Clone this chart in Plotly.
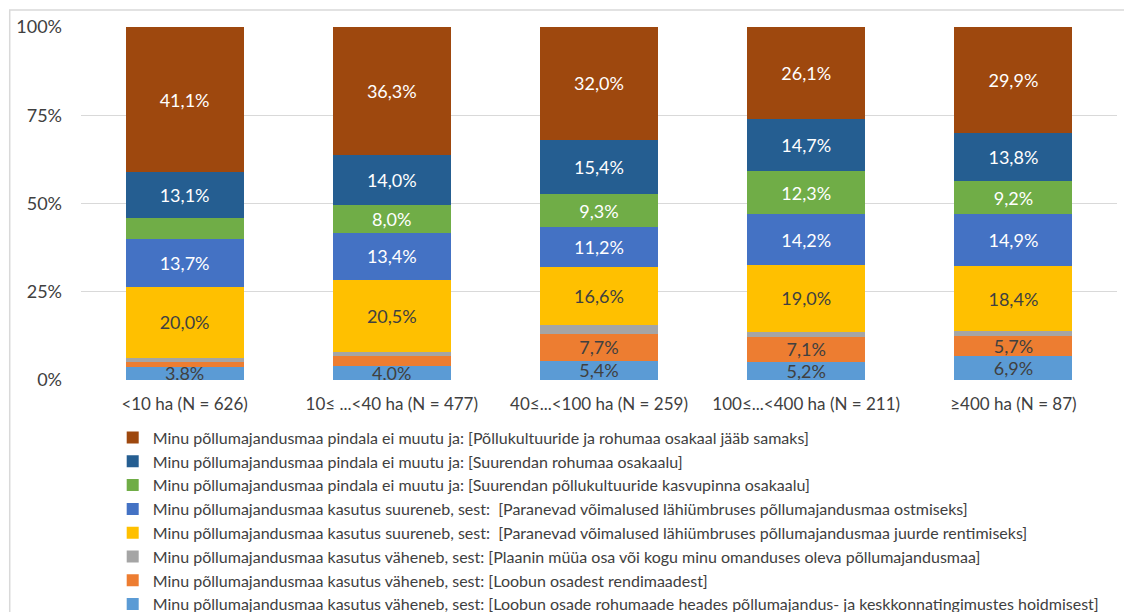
import plotly.graph_objects as go

categories = ["<10 ha (N = 626)", "10≤ ...<40 ha (N = 477)", "40≤...<100 ha (N = 259)",
              "100≤...<400 ha (N = 211)", "≥400 ha (N = 87)"]

# series listed bottom -> top of the stack
series_names = [
    "Minu põllumajandusmaa kasutus väheneb, sest: [Loobun osade rohumaade heades põllumajandus- ja keskkonnatingimustes hoidmisest]",
    "Minu põllumajandusmaa kasutus väheneb, sest: [Loobun osadest rendimaadest]",
    "Minu põllumajandusmaa kasutus väheneb, sest: [Plaanin müüa osa või kogu minu omanduses oleva põllumajandusmaa]",
    "Minu põllumajandusmaa kasutus suureneb, sest:  [Paranevad võimalused lähiümbruses põllumajandusmaa juurde rentimiseks]",
    "Minu põllumajandusmaa kasutus suureneb, sest:  [Paranevad võimalused lähiümbruses põllumajandusmaa ostmiseks]",
    "Minu põllumajandusmaa pindala ei muutu ja: [Suurendan põllukultuuride kasvupinna osakaalu]",
    "Minu põllumajandusmaa pindala ei muutu ja: [Suurendan rohumaa osakaalu]",
    "Minu põllumajandusmaa pindala ei muutu ja: [Põllukultuuride ja rohumaa osakaal jääb samaks]",
]

loobun_rohumaa = [3.8, 4.0, 5.4, 5.2, 6.9]
loobun_rendi = [1.4, 2.9, 7.7, 7.1, 5.7]
plaanin_myya = [1.1, 0.9, 2.4, 1.4, 1.2]
rentimine = [20.0, 20.5, 16.6, 19.0, 18.4]
ostmine = [13.7, 13.4, 11.2, 14.2, 14.9]
pollukultuur = [5.8, 8.0, 9.3, 12.3, 9.2]
rohumaa = [13.1, 14.0, 15.4, 14.7, 13.8]
samaks = [41.1, 36.3, 32.0, 26.1, 29.9]

series_values = [loobun_rohumaa, loobun_rendi, plaanin_myya, rentimine,
                 ostmine, pollukultuur, rohumaa, samaks]

# which data labels are displayed in the original
label_shown = [
    [True, True, True, True, True],
    [False, False, True, True, True],
    [False, False, False, False, False],
    [True, True, True, True, True],
    [True, True, True, True, True],
    [False, True, True, True, True],
    [True, True, True, True, True],
    [True, True, True, True, True],
]

colors = ["#5B9BD5", "#ED7D31", "#A5A5A5", "#FFC000", "#4472C4", "#70AD47", "#255E91", "#9E480E"]
text_colors = ["#404040", "#404040", "#404040", "#404040", "#FFFFFF", "#FFFFFF", "#FFFFFF", "#FFFFFF"]

FONT = "Lato"

fig = go.Figure()
for name, vals, shown, col, tcol in zip(series_names, series_values, label_shown, colors, text_colors):
    txt = [(f"{v:.1f}".replace(".", ",") + "%") if s else "" for v, s in zip(vals, shown)]
    fig.add_trace(go.Bar(
        x=categories, y=vals, name=name,
        marker=dict(color=col, line=dict(width=0)),
        text=txt, textposition="inside", insidetextanchor="middle",
        textfont=dict(family=FONT, size=18, color=tcol),
        hoverinfo="skip",
    ))

fig.update_layout(
    barmode="stack",
    bargap=0.43,
    width=1132, height=612,
    margin=dict(l=73, r=23, t=19, b=240, autoexpand=False),
    paper_bgcolor="white", plot_bgcolor="white",
    font=dict(family=FONT, size=16, color="#595959"),
    uniformtext=dict(mode="show", minsize=18),
    showlegend=True,
    legend=dict(
        traceorder="reversed",
        x=0.0306, xanchor="left",
        y=-0.115, yanchor="top",
        font=dict(family=FONT, size=16, color="#404040"),
        bgcolor="rgba(0,0,0,0)",
    ),
    xaxis=dict(showgrid=False, showline=False, zeroline=False,
               tickfont=dict(family=FONT, size=17, color="#404040"),
               ticklabelstandoff=12),
    yaxis=dict(range=[0, 100], tickvals=[0, 25, 50, 75, 100],
               ticktext=["0%", "25%", "50%", "75%", "100%"],
               showgrid=True, gridcolor="#D9D9D9", gridwidth=1,
               zeroline=False, showline=False,
               tickfont=dict(family=FONT, size=18, color="#404040"),
               ticklabelstandoff=18),
    shapes=[dict(type="rect", xref="paper", yref="paper",
                 x0=-0.0688, x1=1.1, y0=-0.75, y1=1.048,
                 line=dict(color="#D9D9D9", width=1.5), fillcolor="rgba(0,0,0,0)", layer="below")],
)

fig.write_html("out.html")
